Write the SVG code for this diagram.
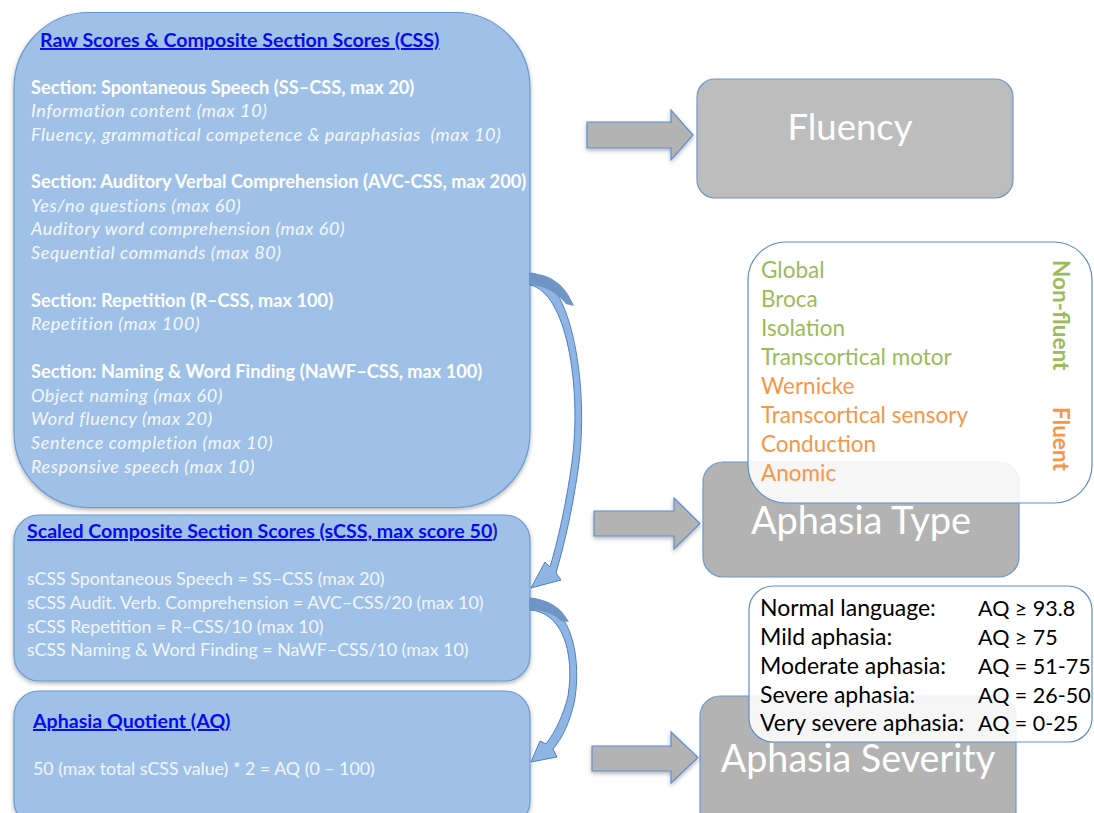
<svg xmlns="http://www.w3.org/2000/svg" width="1094" height="813" viewBox="0 0 1094 813">
<defs>
<filter id="sh" x="-10%" y="-10%" width="120%" height="130%">
<feDropShadow dx="0" dy="2" stdDeviation="2" flood-color="#000" flood-opacity="0.3"/>
</filter>
<style>
.blue{fill:#9fc1e8;stroke:#6b98d0;stroke-width:1.2}
.gray{stroke:#6b98d0;stroke-width:1.2}
.list{fill:#ffffff;fill-opacity:0.88;stroke:#5f8fcc;stroke-width:1.2}
.t{font-family:Lato,"Liberation Sans",sans-serif}
.ttl{font-family:Lato,"Liberation Sans",sans-serif;font-weight:bold;fill:#0a0aee;font-size:19.6px}
.sec{font-family:Lato,"Liberation Sans",sans-serif;font-weight:bold;fill:#ffffff;font-size:18.2px}
.it{font-family:Lato,"Liberation Sans",sans-serif;font-style:italic;fill:#f5f8fc;font-size:18px;letter-spacing:0.6px}
.sc{font-family:Lato,"Liberation Sans",sans-serif;fill:#f3f6fb;font-size:17.8px}
.big{font-family:Lato,"Liberation Sans",sans-serif;fill:#ffffff;text-anchor:middle}
.gr{fill:#9bbb59}
.or{fill:#f79646}
.lt{font-family:Lato,"Liberation Sans",sans-serif;font-size:22.5px}
.lk{font-family:Lato,"Liberation Sans",sans-serif;font-size:23px}
.aq{font-size:21.5px}
.blk{fill:#b3b3b3;stroke:#5f8fcc;stroke-width:1.2}
.crv{fill:#8fb5e4;stroke:#4f81bd;stroke-width:1}
</style>
</defs>
<rect width="1094" height="813" fill="#ffffff"/>

<g id="raw-scores">
<rect class="blue" x="14" y="12.5" width="516" height="495" rx="75" ry="75" filter="url(#sh)"/>
<text class="ttl" x="40" y="47" text-decoration="underline">Raw Scores &amp; Composite Section Scores (CSS)</text>
<text class="sec" x="31" y="94">Section: Spontaneous Speech (SS–CSS, max 20)</text>
<text class="it" x="31" y="117">Information content (max 10)</text>
<text class="it" x="31" y="140.5" xml:space="preserve">Fluency, grammatical competence &amp; paraphasias  (max 10)</text>
<text class="sec" x="31" y="188">Section: Auditory Verbal Comprehension (AVC-CSS, max 200)</text>
<text class="it" x="31" y="211.5">Yes/no questions (max 60)</text>
<text class="it" x="31" y="235">Auditory word comprehension (max 60)</text>
<text class="it" x="31" y="259">Sequential commands (max 80)</text>
<text class="sec" x="31" y="306.5">Section: Repetition (R–CSS, max 100)</text>
<text class="it" x="31" y="330">Repetition (max 100)</text>
<text class="sec" x="31" y="377.5">Section: Naming &amp; Word Finding (NaWF–CSS, max 100)</text>
<text class="it" x="31" y="401.5">Object naming (max 60)</text>
<text class="it" x="31" y="425">Word fluency (max 20)</text>
<text class="it" x="31" y="448.5">Sentence completion (max 10)</text>
<text class="it" x="31" y="473">Responsive speech (max 10)</text>
</g>

<g id="scaled-scores">
<rect class="blue" x="14" y="515" width="516" height="166" rx="25" ry="25" filter="url(#sh)"/>
<text class="ttl" x="27" y="538"><tspan text-decoration="underline">Scaled Composite Section Scores (sCSS, max score 50</tspan><tspan fill="#2323b8">)</tspan></text>
<text class="sc" x="27" y="585">sCSS Spontaneous Speech = SS–CSS (max 20)</text>
<text class="sc" x="27" y="608.5">sCSS Audit. Verb. Comprehension = AVC–CSS/20 (max 10)</text>
<text class="sc" x="27" y="632.5">sCSS Repetition = R–CSS/10 (max 10)</text>
<text class="sc" x="27" y="656">sCSS Naming &amp; Word Finding = NaWF–CSS/10 (max 10)</text>
</g>

<g id="aq">
<rect class="blue" x="14" y="691" width="516" height="135" rx="25" ry="25" filter="url(#sh)"/>
<text class="ttl" x="33" y="728" text-decoration="underline">Aphasia Quotient (AQ)</text>
<text class="sc" x="33" y="775">50 (max total sCSS value) * 2 = AQ (0 – 100)</text>
</g>

<g id="fluency">
<rect class="gray" x="697" y="79" width="316" height="119" rx="18" ry="18" fill="#bdbdbd"/>
<text class="big" x="850" y="140" font-size="36.5">Fluency</text>
</g>

<g id="aphasia-type">
<rect class="gray" x="703" y="462" width="316" height="115" rx="20" ry="20" fill="#b3b3b3"/>
<text class="big" x="861" y="534" font-size="38">Aphasia Type</text>
</g>

<g id="type-list">
<rect class="list" x="748" y="242" width="344" height="261" rx="38" ry="38"/>
<g class="lt">
<text class="gr" x="761" y="277.5">Global</text>
<text class="gr" x="761" y="306.5">Broca</text>
<text class="gr" x="761" y="335.5">Isolation</text>
<text class="gr" x="761" y="364.5">Transcortical motor</text>
<text class="or" x="761" y="393.5">Wernicke</text>
<text class="or" x="761" y="422.5">Transcortical sensory</text>
<text class="or" x="761" y="451.5">Conduction</text>
<text class="or" x="761" y="480.5">Anomic</text>
</g>
<text class="t gr" x="0" y="0" font-size="22.5" font-weight="bold" transform="translate(1053,260) rotate(90)">Non-fluent</text>
<text class="t or" x="0" y="0" font-size="22.5" font-weight="bold" transform="translate(1053,407) rotate(90)">Fluent</text>
</g>

<g id="aphasia-severity">
<rect class="gray" x="700" y="696" width="316" height="135" rx="20" ry="20" fill="#b3b3b3"/>
<text class="big" x="858" y="772" font-size="37.7">Aphasia Severity</text>
</g>

<g id="severity-list">
<rect class="list" x="749" y="586" width="343" height="156" rx="24" ry="24"/>
<g class="lk" fill="#000000">
<text x="760" y="616">Normal language:</text>
<text class="aq" x="978" y="616">AQ ≥ 93.8</text>
<text x="760" y="645">Mild aphasia:</text>
<text class="aq" x="978" y="645">AQ ≥ 75</text>
<text x="760" y="673.5">Moderate aphasia:</text>
<text class="aq" x="978" y="673.5">AQ = 51-75</text>
<text x="760" y="702.5">Severe aphasia:</text>
<text class="aq" x="978" y="702.5">AQ = 26-50</text>
<text x="760" y="731">Very severe aphasia:</text>
<text class="aq" x="978" y="731">AQ = 0-25</text>
</g>
</g>

<g id="connectors">
<polygon class="blk" filter="url(#sh)" points="587,122 671,122 671,110 693,135 671,160 671,148 587,148"/>
<polygon class="blk" filter="url(#sh)" points="594,511 674,511 674,498 700,523.5 674,549 674,536 594,536"/>
<polygon class="blk" filter="url(#sh)" points="592,746 671,746 671,732 698,757.5 671,783 671,771 592,771"/>
<path class="crv" d="M530,273 C572,275 590,390 578,470 C572,512 564,545 556,573 L561,580 L531,588 L545,562 L550,567 C558,540 566,505 572,462 C582,385 566,292 530,285 Z"/>
<path d="M530,273 C552,274 566,286 574,306 L566,304 C556,292 545,286 530,285 Z" fill="#6f95c4"/>
<path class="crv" d="M530,598 C568,601 582,650 575,698 C571,720 563,737 553,749 L557,757 L531,762 L540,741 L546,744 C556,731 564,713 568,696 C575,652 562,612 530,610 Z"/>
<path d="M530,598 C548,599 561,607 569,622 L561,621 C554,614 544,610 530,610 Z" fill="#6f95c4"/>
</g>
</svg>
